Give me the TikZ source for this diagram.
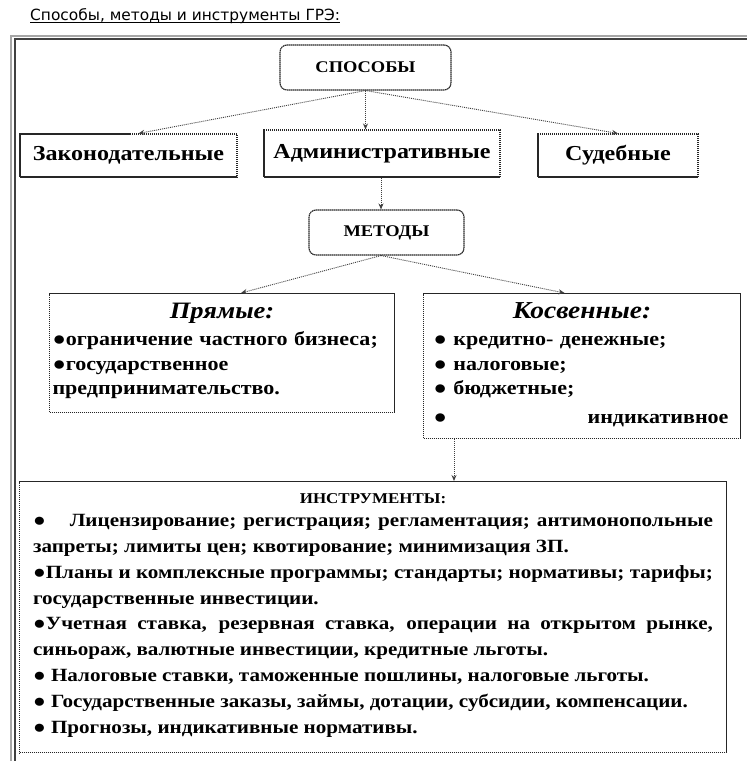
\documentclass[tikz,border=0pt]{standalone}
\usepackage{fontspec}
\setmainfont{Liberation Serif}[FakeStretch=1.13]
\newfontfamily\capfont{DejaVu Sans}
\usetikzlibrary{arrows.meta}
\hyphenpenalty=10000
\exhyphenpenalty=10000

\begin{document}
\begin{tikzpicture}[x=1pt, y=-1pt,
    box/.style={draw=black!85, line width=1.1pt, dash pattern=on 1.5pt off 0.5pt, inner sep=0pt},
    roundbox/.style={box, rounded corners=7pt, font=\bfseries\fontsize{16.3}{19}\selectfont},
    headbox/.style={box, font=\bfseries\fontsize{21.3}{25}\selectfont},
    listbox/.style={box, anchor=north west, inner ysep=3pt, font=\bfseries\fontsize{19.5}{24.5}\selectfont},
    link/.style={draw=black!75, line width=0.9pt, dash pattern=on 1pt off 1pt, -{Stealth[length=6pt,width=5pt]}}]
\useasboundingbox (0,0) rectangle (747,761);

% frame
\draw[black!35, line width=1.3pt] (11,761) -- (11,36) -- (747,36);
\draw[black!75, line width=1.3pt] (15,761) -- (15,39) -- (747,39);

\node[anchor=base west, inner sep=0pt, font=\capfont\fontsize{15.4}{18}\selectfont] (title) at (30,20.5) {Способы, методы и инструменты ГРЭ:};
\draw[line width=0.8pt] ([yshift=-2pt]title.base west) -- ([yshift=-2pt]title.base east);

% ways
\node[roundbox, minimum width=171pt, minimum height=45pt] (spos) at (365.5,67.5) {СПОСОБЫ};
\node[headbox, minimum width=217pt, minimum height=43pt] (zak) at (128.5,155.5) {Законодательные};
\node[headbox, minimum width=236pt, minimum height=47pt] (adm) at (382,153.5) {Административные};
\node[headbox, minimum width=160pt, minimum height=43pt] (sud) at (618,155.5) {Судебные};

% methods
\node[roundbox, minimum width=155pt, minimum height=45pt] (met) at (386.5,232.5) {МЕТОДЫ};
\node[listbox, text width=339pt, inner xsep=3pt, align=left] (pr) at (49,293)
  {\parindent=0pt{\centering\itshape\fontsize{23.5}{28}\selectfont\rule{0pt}{21.5pt}Прямые:\par}\vspace{3pt}%
   ●ограничение частного бизнеса;\\●государственное\\предпринимательство.\rule[-15pt]{0pt}{15pt}};
\node[listbox, text width=309pt, inner xsep=4pt, align=left] (kos) at (423,293)
  {\parindent=0pt{\centering\itshape\fontsize{24.3}{28}\selectfont\rule{0pt}{21.5pt}Косвенные:\par}\vspace{3pt}%
   \hspace*{6pt}● кредитно- денежные;\\\hspace*{6pt}● налоговые;\\\hspace*{6pt}● бюджетные;\\[4.5pt]%
   \hspace*{6pt}●\hfill индикативное\hspace*{8pt}\rule[-12pt]{0pt}{12pt}};

% tools
\node[listbox, text width=680pt, inner xsep=13.5pt, inner ysep=12pt, align=justify,
      font=\bfseries\fontsize{18.67}{25.9}\selectfont] (ins) at (19,481)
  {\parindent=0pt{\centering\fontsize{15}{18}\selectfont ИНСТРУМЕНТЫ:\par}\vspace{-3pt}%
   ●\hspace{24pt}Лицензирование; регистрация; регламентация; антимонопольные\linebreak запреты; лимиты цен; квотирование; минимизация ЗП.\par
   ●Планы и комплексные программы; стандарты; нормативы; тарифы;\linebreak государственные инвестиции.\par
   ●Учетная ставка, резервная ставка, операции на открытом рынке,\linebreak синьораж, валютные инвестиции, кредитные льготы.\par
   ● Налоговые ставки, таможенные пошлины, налоговые льготы.\par
   ● Государственные заказы, займы, дотации, субсидии, компенсации.\par
   ● Прогнозы, индикативные нормативы.\rule[-7pt]{0pt}{7pt}};

\draw[link] (spos.south) -- ([xshift=10pt]zak.north);
\draw[link] (spos.south) -- (spos.south |- adm.north);
\draw[link] (spos.south) -- (sud.north);
\draw[link] ([xshift=-1pt]adm.south) -- ([xshift=-1pt]adm.south |- met.north);
\draw[link] ([xshift=-5.5pt]met.south) -- ([xshift=19pt]pr.north);
\draw[link] ([xshift=-5.5pt]met.south) -- ([xshift=-17.5pt]kos.north);
\draw[link] ([xshift=31pt]kos.south west) -- ([xshift=31pt]kos.south west |- ins.north);
\end{tikzpicture}
\end{document}
